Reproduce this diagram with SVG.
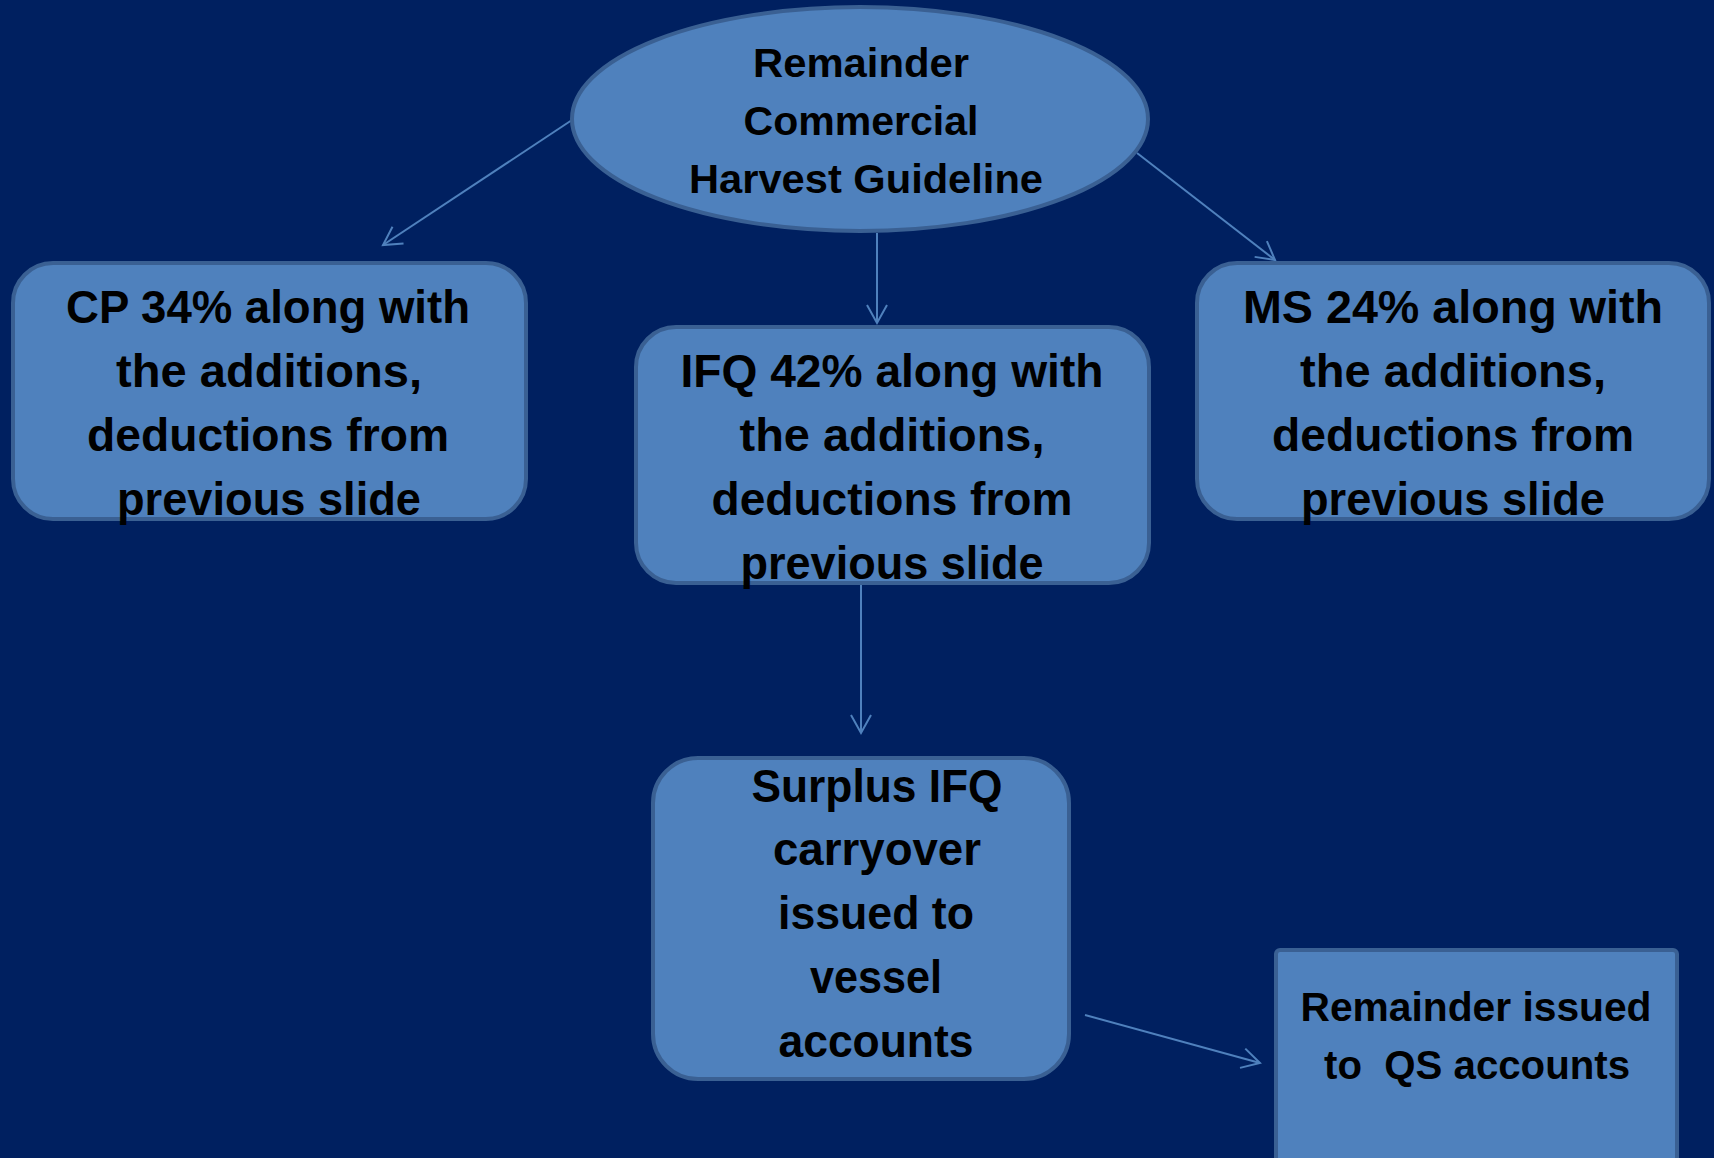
<svg xmlns="http://www.w3.org/2000/svg" width="1714" height="1158" viewBox="0 0 1714 1158">
<style>
.node{fill:#4F81BD;stroke:#3A6093;stroke-width:4}
.t{font-family:"Liberation Sans",Arial,sans-serif;font-weight:bold;fill:#000;text-anchor:middle}
.b{font-size:46px}
.e{font-size:41px}
.c{fill:none;stroke:#4F81BD;stroke-width:2}
</style>
<defs>
<marker id="ah" markerUnits="userSpaceOnUse" viewBox="-22 -14 26 28" refX="0" refY="0" markerWidth="26" markerHeight="28" orient="auto" overflow="visible">
<path d="M-18,-10 L0,0 L-18,10" fill="none" stroke="#4F81BD" stroke-width="2"/>
</marker>
</defs>
<rect width="1714" height="1158" fill="#002060"/>
<g id="connectors">
<line class="c" x1="572" y1="120" x2="383" y2="245" marker-end="url(#ah)"/>
<line class="c" x1="877" y1="233" x2="877" y2="323" marker-end="url(#ah)"/>
<line class="c" x1="1137" y1="153" x2="1275" y2="260" marker-end="url(#ah)"/>
<line class="c" x1="861" y1="585" x2="861" y2="733" marker-end="url(#ah)"/>
<line class="c" x1="1085" y1="1015" x2="1260" y2="1063" marker-end="url(#ah)"/>
</g>
<g id="guideline">
<ellipse class="node" cx="860" cy="119" rx="288" ry="112" stroke-width="5"/>
<text class="t e" x="861" y="77" textLength="216" lengthAdjust="spacingAndGlyphs">Remainder</text>
<text class="t e" x="861" y="135" textLength="235" lengthAdjust="spacingAndGlyphs">Commercial</text>
<text class="t e" x="866" y="193" textLength="354" lengthAdjust="spacingAndGlyphs">Harvest Guideline</text>
</g>
<g id="cp">
<rect class="node" x="13" y="263" width="513" height="256" rx="40"/>
<text class="t b" x="268" y="323" textLength="404" lengthAdjust="spacingAndGlyphs">CP 34% along with</text>
<text class="t b" x="269" y="387" textLength="306" lengthAdjust="spacingAndGlyphs">the additions,</text>
<text class="t b" x="268" y="451" textLength="362" lengthAdjust="spacingAndGlyphs">deductions from</text>
<text class="t b" x="269" y="515" textLength="304" lengthAdjust="spacingAndGlyphs">previous slide</text>
</g>
<g id="ifq">
<rect class="node" x="636" y="327" width="513" height="256" rx="40"/>
<text class="t b" x="892" y="387" textLength="423" lengthAdjust="spacingAndGlyphs">IFQ 42% along with</text>
<text class="t b" x="892" y="451" textLength="305" lengthAdjust="spacingAndGlyphs">the additions,</text>
<text class="t b" x="892" y="515" textLength="361" lengthAdjust="spacingAndGlyphs">deductions from</text>
<text class="t b" x="892" y="579" textLength="303" lengthAdjust="spacingAndGlyphs">previous slide</text>
</g>
<g id="ms">
<rect class="node" x="1197" y="263" width="512" height="256" rx="40"/>
<text class="t b" x="1453" y="323" textLength="420" lengthAdjust="spacingAndGlyphs">MS 24% along with</text>
<text class="t b" x="1453" y="387" textLength="306" lengthAdjust="spacingAndGlyphs">the additions,</text>
<text class="t b" x="1453" y="451" textLength="362" lengthAdjust="spacingAndGlyphs">deductions from</text>
<text class="t b" x="1453" y="515" textLength="304" lengthAdjust="spacingAndGlyphs">previous slide</text>
</g>
<g id="surplus">
<rect class="node" x="653" y="758" width="416" height="321" rx="45"/>
<text class="t b" x="877" y="802" textLength="251" lengthAdjust="spacingAndGlyphs">Surplus IFQ</text>
<text class="t b" x="877" y="865" textLength="208" lengthAdjust="spacingAndGlyphs">carryover</text>
<text class="t b" x="876" y="929" textLength="196" lengthAdjust="spacingAndGlyphs">issued to</text>
<text class="t b" x="876" y="993" textLength="132" lengthAdjust="spacingAndGlyphs">vessel</text>
<text class="t b" x="876" y="1057" textLength="195" lengthAdjust="spacingAndGlyphs">accounts</text>
</g>
<g id="remainder-qs">
<rect class="node" x="1276" y="950" width="401" height="220" rx="4"/>
<text class="t e" x="1476" y="1021" textLength="351" lengthAdjust="spacingAndGlyphs">Remainder issued</text>
<text class="t e" x="1477" y="1079" textLength="306" lengthAdjust="spacingAndGlyphs" xml:space="preserve" style="white-space:pre">to  QS accounts</text>
</g>
</svg>
